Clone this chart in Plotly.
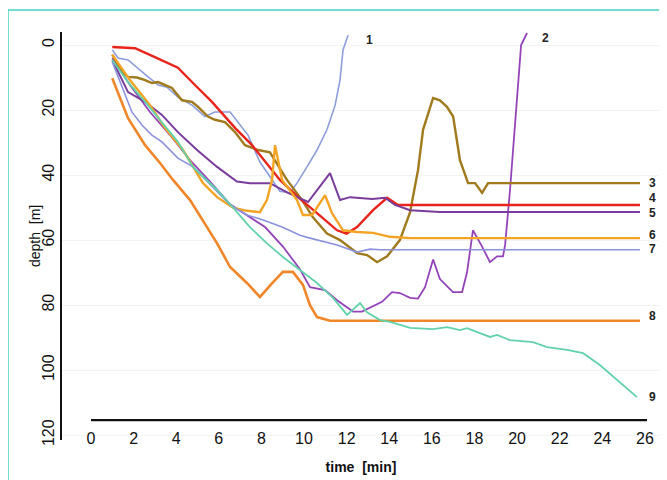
import plotly.graph_objects as go

# ---- data (time in min, depth in m) ----
t1 = [1.0, 1.27, 1.74, 2.2, 2.68, 3.15, 3.57, 4.08, 4.74, 5.35, 5.82, 6.53, 6.9, 7.37, 7.93, 8.87, 9.34, 9.67, 10.14, 10.61, 11.08, 11.46, 11.69, 11.83, 12.07]
d1 = [1.5, 4.0, 4.6, 7.0, 9.8, 12.3, 13.0, 16.0, 18.5, 22.0, 20.6, 20.6, 23.7, 27.7, 36.0, 45.0, 45.5, 42.5, 37.5, 32.3, 26.0, 18.5, 10.8, 1.5, -3.0]

t2 = [1.0, 1.83, 2.77, 3.71, 4.65, 5.59, 6.53, 7.46, 8.17, 9.01, 9.81, 10.28, 10.99, 11.55, 12.3, 12.72, 13.66, 14.13, 14.5, 14.98, 15.35, 15.68, 16.06, 16.38, 16.99, 17.42, 17.65, 17.93, 18.36, 18.73, 19.06, 19.34, 19.44, 19.67, 19.95, 20.19, 20.47]
d2 = [4.0, 12.3, 20.6, 27.7, 35.4, 42.0, 49.0, 53.0, 56.0, 62.0, 69.0, 74.5, 75.4, 78.5, 82.0, 82.0, 79.0, 76.0, 76.3, 77.8, 78.0, 74.5, 66.0, 72.0, 76.0, 76.0, 70.0, 57.0, 62.0, 66.8, 65.0, 65.0, 61.5, 44.6, 21.5, 0.0, -3.7]

t3 = [1.0, 1.46, 1.74, 2.16, 2.54, 2.86, 3.15, 3.47, 3.8, 4.27, 4.74, 5.02, 5.49, 5.82, 6.29, 6.76, 7.23, 7.84, 8.4, 9.2, 9.91, 10.42, 11.08, 11.69, 12.49, 12.96, 13.43, 13.9, 14.5, 14.98, 15.35, 15.59, 16.06, 16.38, 16.71, 17.0, 17.32, 17.7, 18.03, 18.36, 18.64, 25.77]
d3 = [3.0, 8.3, 9.8, 10.0, 10.8, 11.7, 11.4, 12.3, 13.2, 17.0, 17.5, 19.0, 22.0, 23.0, 23.7, 26.8, 30.8, 32.3, 33.0, 41.5, 47.7, 53.0, 58.0, 60.0, 64.0, 64.6, 66.8, 65.0, 60.0, 51.4, 38.5, 26.0, 16.3, 17.0, 19.0, 22.0, 35.4, 42.5, 42.5, 45.5, 42.5, 42.5]

t4 = [1.0, 2.07, 3.0, 4.08, 4.88, 5.68, 6.76, 7.56, 8.87, 9.72, 10.61, 11.55, 12.0, 12.49, 13.24, 13.9, 14.41, 25.77]
d4 = [0.6, 1.0, 3.7, 7.0, 12.3, 17.5, 25.5, 30.8, 41.5, 46.8, 51.7, 57.0, 58.0, 56.0, 50.8, 47.0, 49.2, 49.2]

t5 = [1.0, 1.74, 2.54, 3.33, 4.08, 4.98, 5.92, 6.85, 7.46, 8.4, 9.25, 10.19, 11.22, 11.69, 12.16, 13.2, 13.8, 14.27, 14.98, 16.38, 25.77]
d5 = [4.6, 14.5, 17.5, 21.5, 26.8, 32.3, 37.5, 42.0, 42.5, 42.5, 45.5, 48.3, 39.4, 47.7, 46.8, 47.4, 47.0, 49.2, 50.8, 51.4, 51.4]

t6 = [1.0, 1.83, 2.77, 3.47, 4.32, 5.26, 5.92, 6.67, 7.32, 7.93, 8.26, 8.5, 8.64, 8.97, 9.67, 9.95, 10.38, 10.99, 11.31, 11.83, 12.49, 13.24, 14.04, 14.98, 25.77]
d6 = [3.0, 10.8, 18.5, 25.5, 32.3, 42.5, 46.8, 50.0, 51.0, 51.4, 47.7, 41.5, 30.8, 41.5, 47.7, 52.3, 52.3, 46.2, 51.7, 57.0, 57.5, 57.8, 59.0, 59.4, 59.4]

t7 = [1.0, 1.46, 1.92, 2.39, 2.86, 3.33, 4.08, 4.79, 5.59, 6.53, 7.32, 8.08, 8.97, 9.81, 10.28, 11.55, 12.49, 13.1, 13.57, 25.77]
d7 = [5.2, 13.2, 20.6, 24.6, 27.7, 29.8, 34.8, 37.5, 43.0, 49.2, 52.3, 53.8, 56.0, 58.5, 59.4, 61.5, 63.7, 62.8, 63.0, 63.0]

t8 = [1.0, 1.74, 2.54, 3.24, 3.85, 4.65, 5.92, 6.53, 7.32, 7.93, 8.54, 9.01, 9.48, 9.95, 10.28, 10.61, 11.22, 25.77]
d8 = [10.2, 22.5, 30.8, 36.3, 41.5, 47.7, 61.0, 68.3, 73.2, 77.5, 73.0, 69.8, 69.8, 73.8, 80.0, 83.7, 84.8, 84.8]

t9 = [1.0, 1.74, 2.54, 3.33, 4.08, 4.79, 5.92, 6.67, 7.46, 8.26, 9.01, 9.81, 10.61, 11.36, 12.02, 12.63, 12.96, 13.57, 14.04, 14.98, 16.06, 16.71, 17.32, 17.65, 18.73, 19.06, 19.67, 20.75, 21.41, 22.35, 23.1, 23.9, 24.7, 25.63]
d9 = [4.6, 11.4, 17.5, 23.7, 29.8, 37.5, 44.6, 50.0, 56.0, 61.0, 65.2, 69.2, 73.2, 77.8, 83.0, 79.4, 82.2, 84.6, 85.2, 87.0, 87.4, 86.8, 87.7, 87.1, 89.8, 89.2, 90.8, 91.4, 92.9, 93.8, 94.8, 98.5, 103.0, 108.3]

curve_names = ["1", "2", "3", "4", "5", "6", "7", "8", "9"]
curve_t = [t1, t2, t3, t4, t5, t6, t7, t8, t9]
curve_d = [d1, d2, d3, d4, d5, d6, d7, d8, d9]

# label positions for the curve numbers
label_t = [12.8, 21.1, 26.1, 26.1, 26.1, 26.1, 26.1, 26.1, 26.1]
label_d = [-1.5, -2.2, 42.5, 47.0, 51.7, 58.3, 62.6, 83.4, 108.3]

x_ticks = list(range(0, 27, 2))
y_ticks = list(range(0, 121, 20))

colors = ["#8e9ddb", "#9444b8", "#a07a1c", "#e8241c", "#7a3c9c",
          "#f4a424", "#8c92dc", "#f0862a", "#62d2aa"]
widths = [1.6, 1.8, 2.4, 2.4, 2.0, 2.4, 1.6, 2.6, 1.8]

# figure geometry (page body adds an 8px offset)
W, H = 659, 472
L, R, T, B = 54, 7, 24, 40
PW, PH = W - L - R, H - T - B

fig = go.Figure()
for name, tt, dd, c, w in zip(curve_names, curve_t, curve_d, colors, widths):
    fig.add_trace(go.Scatter(x=tt, y=dd, mode="lines", name=name,
                             line=dict(color=c, width=w), showlegend=False))

for name, lt, ld in zip(curve_names, label_t, label_d):
    fig.add_annotation(x=lt, y=ld, text="<b>" + name + "</b>", showarrow=False,
                       xanchor="left", yanchor="middle",
                       font=dict(family="Liberation Sans, Arial", size=12, color="#222"))

# y axis title
fig.add_annotation(xref="paper", yref="paper", x=(27 - L) / PW, y=0.5,
                   text="depth  [m]", textangle=-90, showarrow=False,
                   xanchor="center", yanchor="middle",
                   font=dict(family="Liberation Sans, Arial", size=14, color="#111"))

# horizontal time axis line
fig.add_shape(type="line", xref="x", yref="y", x0=0, x1=26.1, y0=115.4, y1=115.4,
              line=dict(color="#111", width=2.2))

# teal frame
fig.add_shape(type="rect", xref="paper", yref="paper",
              x0=(0 - L) / PW, x1=(W + 5 - L) / PW,
              y0=(PH + T - (H + 5)) / PH, y1=(PH + T - 2) / PH,
              line=dict(color="#45d4c0", width=1.5), fillcolor="rgba(0,0,0,0)", layer="below")

fig.update_layout(
    width=W, height=H, autosize=False,
    margin=dict(l=L, r=R, t=T, b=B, autoexpand=False),
    paper_bgcolor="white", plot_bgcolor="white",
    xaxis=dict(range=[-1.36, 26.71], tickvals=x_ticks, showgrid=False, zeroline=False,
               showline=False, ticks="", anchor="free", position=0.032, automargin=False,
               tickfont=dict(family="Liberation Sans Narrow, Liberation Sans, Arial", size=16, color="#111"),
               tickprefix="<b>", ticksuffix="</b>",
               title=dict(text="<b>time  [min]</b>", standoff=16,
                          font=dict(family="Liberation Sans, Arial", size=14, color="#111"))),
    yaxis=dict(range=[121.5, -4.0], tickvals=y_ticks, tickangle=-90, automargin=False,
               showgrid=True, gridcolor="#f3f3f3", zeroline=False,
               showline=True, linecolor="#111", linewidth=2, ticks="",
               tickfont=dict(family="Liberation Sans, Arial", size=16, color="#111"),
               tickprefix="<b>", ticksuffix="</b>"),
)

fig.write_html("out.html")
